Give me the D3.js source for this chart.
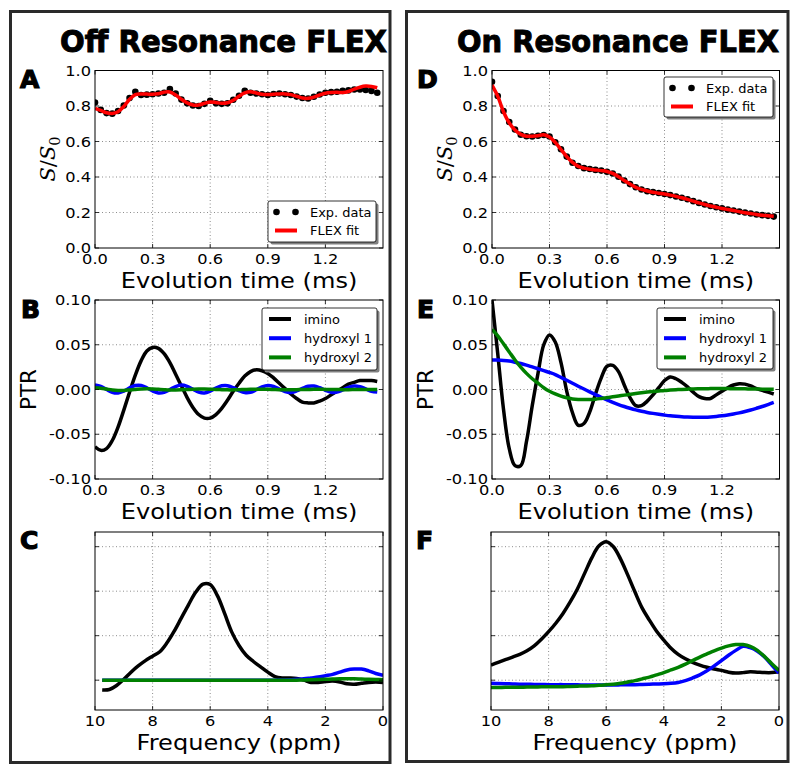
<!DOCTYPE html>
<html><head><meta charset="utf-8">
<script src="https://cdn.jsdelivr.net/npm/d3@7"></script>
<style>body{margin:0;background:#fff}</style>
</head><body><svg id="c" width="800" height="773"></svg>
<script>
// ---------------- DATA ----------------
const timeMs = [0,0.03,0.06,0.09,0.12,0.15,0.18,0.21,0.24,0.27,0.30,0.33,0.36,0.39,0.42,0.45,0.48,0.51,0.54,0.57,0.60,0.63,0.66,0.69,0.72,0.75,0.78,0.81,0.84,0.87,0.90,0.93,0.96,0.99,1.02,1.05,1.08,1.11,1.14,1.17,1.20,1.23,1.26,1.29,1.32,1.35,1.38,1.41,1.44,1.47];

const offExp = [0.820,0.778,0.760,0.757,0.772,0.803,0.845,0.880,0.862,0.864,0.866,0.870,0.875,0.895,0.870,0.836,0.815,0.803,0.800,0.812,0.830,0.815,0.812,0.815,0.835,0.858,0.885,0.875,0.870,0.866,0.862,0.868,0.870,0.866,0.862,0.853,0.845,0.842,0.852,0.865,0.875,0.878,0.880,0.885,0.888,0.893,0.893,0.890,0.885,0.875];
const offFit = [0.787,0.775,0.762,0.758,0.768,0.797,0.838,0.864,0.868,0.867,0.866,0.869,0.878,0.879,0.862,0.838,0.818,0.806,0.806,0.815,0.823,0.820,0.815,0.818,0.832,0.855,0.874,0.880,0.873,0.866,0.865,0.866,0.868,0.868,0.864,0.855,0.845,0.843,0.850,0.862,0.872,0.876,0.877,0.876,0.882,0.895,0.906,0.912,0.910,0.903];

const onExp = [0.937,0.856,0.772,0.710,0.668,0.638,0.630,0.628,0.632,0.637,0.628,0.596,0.556,0.515,0.480,0.462,0.450,0.445,0.440,0.436,0.430,0.420,0.402,0.380,0.360,0.342,0.330,0.320,0.315,0.310,0.304,0.298,0.290,0.283,0.275,0.264,0.254,0.245,0.237,0.230,0.223,0.216,0.211,0.205,0.200,0.194,0.189,0.185,0.181,0.177];
const onFit = [0.918,0.855,0.768,0.705,0.665,0.640,0.630,0.630,0.633,0.638,0.625,0.595,0.555,0.515,0.482,0.460,0.450,0.444,0.440,0.436,0.431,0.420,0.402,0.380,0.360,0.342,0.330,0.321,0.314,0.309,0.304,0.298,0.291,0.283,0.274,0.264,0.254,0.245,0.237,0.230,0.223,0.217,0.211,0.205,0.199,0.194,0.189,0.185,0.182,0.179];

const offImino = [-0.064,-0.068,-0.066,-0.057,-0.042,-0.023,-0.003,0.016,0.032,0.043,0.047,0.046,0.040,0.030,0.017,0.004,-0.009,-0.020,-0.028,-0.032,-0.032,-0.028,-0.021,-0.012,-0.002,0.007,0.015,0.020,0.022,0.021,0.018,0.013,0.007,0.001,-0.005,-0.010,-0.014,-0.015,-0.015,-0.013,-0.010,-0.006,-0.002,0.002,0.006,0.008,0.010,0.010,0.010,0.009];
const offHyd1 = [0.005,0.0035,0.0001,-0.0031,-0.0039,-0.0018,0.0018,0.0045,0.0046,0.0020,-0.0016,-0.0038,-0.0032,-0.0001,0.0033,0.0049,0.0035,0.0003,-0.0029,-0.0038,-0.0018,0.0015,0.0041,0.0043,0.0020,-0.0012,-0.0034,-0.0031,-0.0003,0.0028,0.0044,0.0034,0.0005,-0.0024,-0.0034,-0.0016,0.0012,0.0036,0.0039,0.0020,-0.0009,-0.0030,-0.0029,-0.0005,0.0024,0.0038,0.0031,0.0007,-0.0019,-0.0028];
const offHyd2 = [0.002,0.0015,0.0005,-0.0005,-0.001,-0.001,-0.0005,0.0,0.0005,0.0008,0.0006,0.0002,-0.0002,-0.0005,-0.0005,-0.0003,0.0,0.0003,0.0005,0.0005,0.0003,0.0,-0.0002,-0.0004,-0.0004,-0.0002,0.0,0.0002,0.0003,0.0003,0.0002,0.0,-0.0002,-0.0003,-0.0003,-0.0002,0.0,0.0001,0.0002,0.0002,0.0001,0.0,-0.0001,-0.0002,-0.0002,-0.0001,0.0,0.0,0.0,0.0];

const onImino = [0.100,0.040,-0.022,-0.066,-0.085,-0.085,-0.058,-0.018,0.018,0.050,0.061,0.053,0.030,-0.002,-0.026,-0.040,-0.038,-0.025,-0.005,0.013,0.026,0.027,0.020,0.005,-0.009,-0.018,-0.018,-0.013,-0.006,0.002,0.010,0.014,0.012,0.008,0.003,-0.003,-0.008,-0.010,-0.010,-0.006,-0.002,0.002,0.005,0.0065,0.006,0.004,0.001,-0.001,-0.003,-0.005];
const onHyd1 = [0.0330,0.0329,0.0325,0.0318,0.0305,0.0290,0.0272,0.0252,0.0232,0.0211,0.0190,0.0167,0.0135,0.0103,0.0070,0.0037,0.0005,-0.0027,-0.0058,-0.0088,-0.0116,-0.0143,-0.0168,-0.0190,-0.0210,-0.0228,-0.0243,-0.0256,-0.0267,-0.0277,-0.0286,-0.0294,-0.0300,-0.0305,-0.0308,-0.0310,-0.0310,-0.0309,-0.0306,-0.0301,-0.0294,-0.0285,-0.0274,-0.0261,-0.0246,-0.0229,-0.0210,-0.0190,-0.0168,-0.0145];
const onHyd2 = [0.067,0.060,0.051,0.042,0.033,0.025,0.018,0.012,0.007,0.002,-0.002,-0.005,-0.0075,-0.0093,-0.0105,-0.0111,-0.0113,-0.0112,-0.0108,-0.0100,-0.0091,-0.0082,-0.0073,-0.0063,-0.0054,-0.0045,-0.0037,-0.0029,-0.0022,-0.0016,-0.0010,-0.0006,-0.0002,0.0001,0.0004,0.0006,0.0008,0.0009,0.0010,0.0010,0.0010,0.0010,0.0009,0.0008,0.0007,0.0006,0.0005,0.0004,0.0003,0.0002];

const freqPpm = [10,9.75,9.5,9.25,9,8.75,8.5,8.25,8,7.75,7.5,7.25,7,6.75,6.5,6.25,6,5.75,5.5,5.25,5,4.75,4.5,4.25,4,3.75,3.5,3.25,3,2.75,2.5,2.25,2,1.75,1.5,1.25,1,0.75,0.5,0.25,0];

const offSpecImino = [null,-0.22,-0.21,-0.12,0.02,0.18,0.32,0.44,0.54,0.64,0.84,1.10,1.40,1.70,1.98,2.16,2.15,1.90,1.50,1.08,0.78,0.56,0.42,0.30,0.18,0.08,0.05,0.05,0.04,0.00,-0.05,-0.05,-0.03,-0.02,-0.04,-0.08,-0.09,-0.07,-0.05,-0.04,-0.05];
const offSpecHyd1 = [null,0,0,0,0,0,0,0,0,0,0,0,0,0,0,0,0,0,0,0,0,0,0,0,0,0,0.005,0.01,0.02,0.03,0.05,0.07,0.10,0.13,0.18,0.23,0.25,0.25,0.21,0.15,0.11];
const offSpecHyd2 = [null,0,0,0,0,0,0,0,0,0,0,0,0,0,0,0,0,0,0,0,0,0,0,0,0,0,0,0,0,0.005,0.01,0.015,0.02,0.025,0.03,0.03,0.03,0.025,0.02,0.015,0.01];

const onSpecImino = [0.34,0.40,0.46,0.52,0.58,0.66,0.77,0.92,1.09,1.28,1.50,1.76,2.05,2.40,2.75,3.02,3.11,3.00,2.72,2.36,1.98,1.62,1.35,1.10,0.90,0.72,0.58,0.48,0.40,0.34,0.29,0.25,0.22,0.18,0.16,0.17,0.19,0.18,0.17,0.17,0.19];
const onSpecHyd1 = [-0.07,-0.075,-0.08,-0.085,-0.09,-0.09,-0.095,-0.095,-0.10,-0.10,-0.10,-0.105,-0.105,-0.11,-0.11,-0.11,-0.11,-0.11,-0.105,-0.10,-0.10,-0.095,-0.09,-0.085,-0.08,-0.07,-0.05,-0.01,0.05,0.12,0.21,0.32,0.44,0.56,0.67,0.76,0.73,0.65,0.52,0.34,0.16];
const onSpecHyd2 = [-0.165,-0.165,-0.16,-0.16,-0.16,-0.155,-0.155,-0.15,-0.15,-0.15,-0.145,-0.14,-0.135,-0.13,-0.125,-0.115,-0.105,-0.09,-0.07,-0.04,-0.01,0.03,0.07,0.12,0.17,0.23,0.29,0.36,0.44,0.52,0.59,0.66,0.72,0.77,0.80,0.80,0.76,0.67,0.53,0.37,0.22];

const timeTicks = [0.0,0.3,0.6,0.9,1.2];
const timeTickLabels = ['0.0','0.3','0.6','0.9','1.2'];
const ratioTicks = [0.0,0.2,0.4,0.6,0.8,1.0];
const ratioTickLabels = ['0.0','0.2','0.4','0.6','0.8','1.0'];
const ptrTicks = [-0.10,-0.05,0.00,0.05,0.10];
const ptrTickLabels = ['-0.10','-0.05','0.00','0.05','0.10'];
const freqTicks = [10,8,6,4,2,0];
const freqTickLabels = ['10','8','6','4','2','0'];
const specTicks = [0,1,2,3];

const seriesNames = ['imino','hydroxyl 1','hydroxyl 2'];
const seriesColors = ['#000000','#0000ff','#008000'];
const fitNames = ['Exp. data','FLEX fit'];

// ---------------- DRAWING ----------------
const SX = 1.12;
const svg = d3.select('#c');
const defs = svg.append('defs');

function label(g, x, y, str, o = {}) {
  const t = g.append('text')
    .attr('transform', `translate(${x},${y}) scale(${o.sx ?? SX},1)`)
    .attr('font-family', o.family || 'DejaVu Sans')
    .attr('font-size', o.size || 14.5)
    .attr('text-anchor', o.anchor || 'start')
    .attr('fill', '#000')
    .text(str);
  if (o.weight) t.attr('font-weight', o.weight);
  return t;
}

function makeAxes(p) {
  const x = d3.scaleLinear().domain(p.xd).range([p.l, p.r]);
  const y = d3.scaleLinear().domain(p.yd).range([p.b, p.t]);
  const g = svg.append('g');
  const id = 'clip' + p.name;
  defs.append('clipPath').attr('id', id).append('rect')
    .attr('x', p.l).attr('y', p.t).attr('width', p.r - p.l).attr('height', p.b - p.t);
  const gxv = p.xt.filter(v => Math.abs(x(v) - p.l) > 1 && Math.abs(x(v) - p.r) > 1);
  const gyv = p.yt.filter(v => Math.abs(y(v) - p.t) > 1 && Math.abs(y(v) - p.b) > 1);
  const grid = g.append('g').attr('stroke', '#000').attr('stroke-width', 0.6)
    .attr('stroke-dasharray', '1,2.5').attr('opacity', 0.75);
  grid.selectAll('.gx').data(gxv).join('line')
    .attr('x1', d => x(d)).attr('x2', d => x(d)).attr('y1', p.t).attr('y2', p.b);
  grid.selectAll('.gy').data(gyv).join('line')
    .attr('y1', d => y(d)).attr('y2', d => y(d)).attr('x1', p.l).attr('x2', p.r);
  const plot = g.append('g').attr('clip-path', `url(#${id})`);
  return { x, y, g, plot, p };
}

function finishAxes(ax) {
  const { x, y, g, p } = ax;
  const tk = g.append('g').attr('stroke', '#000').attr('stroke-width', 0.8);
  p.xt.forEach(v => {
    tk.append('line').attr('x1', x(v)).attr('x2', x(v)).attr('y1', p.b).attr('y2', p.b - 4);
    tk.append('line').attr('x1', x(v)).attr('x2', x(v)).attr('y1', p.t).attr('y2', p.t + 4);
  });
  p.yt.forEach(v => {
    tk.append('line').attr('y1', y(v)).attr('y2', y(v)).attr('x1', p.l).attr('x2', p.l + 4);
    tk.append('line').attr('y1', y(v)).attr('y2', y(v)).attr('x1', p.r).attr('x2', p.r - 4);
  });
  g.append('rect').attr('x', p.l).attr('y', p.t).attr('width', p.r - p.l).attr('height', p.b - p.t)
    .attr('fill', 'none').attr('stroke', '#000').attr('stroke-width', 1);
  p.xt.forEach((v, i) => label(g, x(v), p.b + 16, p.xl[i], { anchor: 'middle' }));
  if (p.yl) p.yt.forEach((v, i) => label(g, p.l - 4, y(v) + 5, p.yl[i], { anchor: 'end' }));
  label(g, (p.l + p.r) / 2, p.b + 40, p.xlabel, { anchor: 'middle', size: 21.5 });
}

function legend(g, bx, by, bw, bh, rows) {
  const lg = g.append('g');
  lg.append('rect').attr('x', bx + 2.5).attr('y', by + 2.5).attr('width', bw).attr('height', bh)
    .attr('fill', '#808080').attr('rx', 2);
  lg.append('rect').attr('x', bx).attr('y', by).attr('width', bw).attr('height', bh)
    .attr('fill', '#fff').attr('stroke', '#000').attr('stroke-width', 0.8).attr('rx', 2);
  rows.forEach((r, i) => {
    const ry = by + 11 + i * (r.gap || 19);
    if (r.kind === 'dots') {
      [8.5, 27.5].forEach(dx => lg.append('circle').attr('cx', bx + dx).attr('cy', ry).attr('r', 3.3).attr('fill', r.color));
    } else {
      lg.append('line').attr('x1', bx + 7).attr('x2', bx + 29).attr('y1', ry).attr('y2', ry)
        .attr('stroke', r.color).attr('stroke-width', 4);
    }
    label(lg, bx + 42, ry + 4.6, r.text, { size: 11.6 });
  });
}

function ratioPanel(name, l, r, exp, fit, legendBox) {
  const ax = makeAxes({ name, l, r, t: 70.5, b: 248, xd: [0, 1.5], yd: [0, 1],
    xt: timeTicks, xl: timeTickLabels, yt: ratioTicks, yl: ratioTickLabels, xlabel: 'Evolution time (ms)' });
  ax.plot.selectAll('circle').data(timeMs).join('circle')
    .attr('cx', (d) => ax.x(d)).attr('cy', (d, i) => ax.y(exp[i])).attr('r', 3.3).attr('fill', '#000');
  const line = d3.line().x((d) => ax.x(d)).y((d, i) => ax.y(fit[i])).curve(d3.curveCatmullRom);
  ax.plot.append('path').datum(timeMs).attr('d', line).attr('fill', 'none')
    .attr('stroke', '#ff0000').attr('stroke-width', 3.5).attr('stroke-linejoin', 'round');
  finishAxes(ax);
  legend(ax.g, legendBox[0], legendBox[1], legendBox[2], legendBox[3], [
    { kind: 'dots', color: '#000', text: fitNames[0], gap: 18.5 },
    { kind: 'line', color: '#ff0000', text: fitNames[1], gap: 18.5 }]);
  const yl = ax.g.append('text').attr('transform', `translate(${l - 40},159) rotate(-90)`)
    .attr('text-anchor', 'middle').attr('font-family', 'DejaVu Serif').attr('font-size', 21);
  yl.append('tspan').attr('font-style', 'italic').text('S');
  yl.append('tspan').text('/');
  yl.append('tspan').attr('font-style', 'italic').text('S');
  yl.append('tspan').attr('font-size', 14.5).attr('dy', 5).text('0');
  return ax;
}

function ptrPanel(name, l, r, series, legendBox) {
  const ax = makeAxes({ name, l, r, t: 300, b: 479, xd: [0, 1.5], yd: [-0.10, 0.10],
    xt: timeTicks, xl: timeTickLabels, yt: ptrTicks, yl: ptrTickLabels, xlabel: 'Evolution time (ms)' });
  series.forEach((s, k) => {
    const line = d3.line().x((d) => ax.x(d)).y((d, i) => ax.y(s[i])).curve(d3.curveCatmullRom);
    ax.plot.append('path').datum(timeMs).attr('d', line).attr('fill', 'none')
      .attr('stroke', seriesColors[k]).attr('stroke-width', 3.5).attr('stroke-linejoin', 'round');
  });
  finishAxes(ax);
  legend(ax.g, legendBox[0], legendBox[1], legendBox[2], legendBox[3],
    seriesNames.map((n, k) => ({ kind: 'line', color: seriesColors[k], text: n, gap: 19.2 })));
  ax.g.append('text').attr('transform', `translate(${l - 59},389.5) rotate(-90)`)
    .attr('text-anchor', 'middle').attr('font-family', 'DejaVu Sans').attr('font-size', 21.5).text('PTR');
  return ax;
}

function specPanel(name, l, r, series) {
  const ax = makeAxes({ name, l, r, t: 532, b: 710, xd: [10, 0], yd: [-0.67, 3.33],
    xt: freqTicks, xl: freqTickLabels, yt: specTicks, yl: null, xlabel: 'Frequency (ppm)' });
  series.forEach((s, k) => {
    const line = d3.line().defined((d, i) => s[i] !== null)
      .x((d) => ax.x(d)).y((d, i) => ax.y(s[i])).curve(d3.curveCatmullRom);
    ax.plot.append('path').datum(freqPpm).attr('d', line).attr('fill', 'none')
      .attr('stroke', seriesColors[k]).attr('stroke-width', 3.5).attr('stroke-linejoin', 'round');
  });
  finishAxes(ax);
  return ax;
}

ratioPanel('A', 95, 383, offExp, offFit, [268, 201, 108, 41]);
ptrPanel('B', 95, 383, [offImino, offHyd1, offHyd2], [262, 308, 115, 62]);
specPanel('C', 95, 383, [offSpecImino, offSpecHyd1, offSpecHyd2]);
ratioPanel('D', 492, 779.5, onExp, onFit, [664, 77, 109, 40]);
ptrPanel('E', 492, 779.5, [onImino, onHyd1, onHyd2], [657, 308, 116, 61]);
specPanel('F', 491, 779, [onSpecImino, onSpecHyd1, onSpecHyd2]);

// panel letters
const letters = [['A', 20, 88], ['B', 21, 318], ['C', 20, 549], ['D', 417, 88], ['E', 417, 318], ['F', 416, 549]];
letters.forEach(([s, x, y]) => {
  svg.append('text').attr('x', x).attr('y', y).attr('font-family', 'DejaVu Sans').attr('font-weight', 'bold')
    .attr('font-size', 25).attr('stroke', '#000').attr('stroke-width', 1.2).text(s);
});

// titles
[['Off Resonance FLEX', 60, 327], ['On Resonance FLEX', 457, 322]].forEach(([s, x, w]) => {
  svg.append('text').attr('x', x).attr('y', 52).attr('font-family', 'DejaVu Sans').attr('font-weight', 'bold')
    .attr('font-size', 31).attr('textLength', w).attr('lengthAdjust', 'spacingAndGlyphs')
    .attr('stroke', '#000').attr('stroke-width', 1).text(s);
});

svg.append('rect').attr('x', 786).attr('y', 0).attr('width', 14).attr('height', 773).attr('fill', '#fff');

// frames
svg.append('rect').attr('x', 10.5).attr('y', 11.5).attr('width', 379.5).attr('height', 751)
  .attr('fill', 'none').attr('stroke', '#2a2a2a').attr('stroke-width', 3);
svg.append('rect').attr('x', 406.5).attr('y', 11.5).attr('width', 381.5).attr('height', 750)
  .attr('fill', 'none').attr('stroke', '#2a2a2a').attr('stroke-width', 3);
</script></body></html>
